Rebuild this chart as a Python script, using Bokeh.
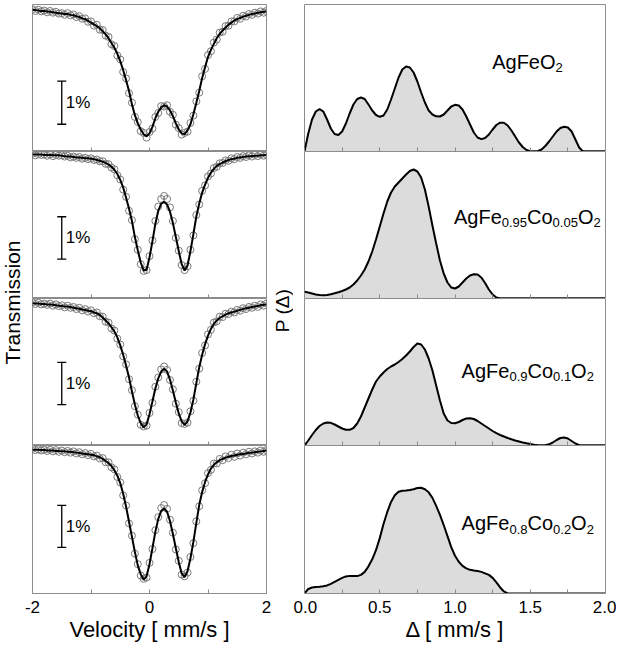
from math import pi
from bokeh.plotting import figure
from bokeh.layouts import row, column
from bokeh.models import Range1d, FixedTicker, Label, PrintfTickFormatter
from bokeh.embed import file_html
from bokeh.resources import INLINE

# ---------------- data ----------------
# velocity channels (mm/s) and quadrupole splitting grid (mm/s)
velocity = [round(-2 + 0.05 * i, 2) for i in range(81)]
delta = [round(0.025 * i, 3) for i in range(81)]

# Mossbauer spectra: relative transmission (%) - fitted curve and measured points
fit_agfeo2 = [99.92, 99.92, 99.91, 99.90, 99.90, 99.89, 99.88, 99.87, 99.86, 99.85,
              99.84, 99.83, 99.83, 99.81, 99.80, 99.78, 99.76, 99.73, 99.71, 99.67,
              99.63, 99.59, 99.55, 99.50, 99.43, 99.36, 99.27, 99.16, 99.05, 98.91,
              98.74, 98.53, 98.30, 98.05, 97.74, 97.49, 97.30, 97.16, 97.05, 97.00,
              97.07, 97.22, 97.42, 97.57, 97.67, 97.72, 97.69, 97.60, 97.47, 97.30,
              97.16, 97.07, 97.05, 97.14, 97.28, 97.51, 97.77, 98.05, 98.35, 98.60,
              98.84, 99.00, 99.14, 99.27, 99.37, 99.45, 99.52, 99.58, 99.63, 99.68,
              99.71, 99.74, 99.77, 99.79, 99.81, 99.83, 99.84, 99.86, 99.87, 99.88, 99.89]
obs_agfeo2 = [99.94, 99.90, 99.93, 99.89, 99.91, 99.87, 99.90, 99.86, 99.88, 99.84,
              99.85, 99.81, 99.85, 99.80, 99.82, 99.76, 99.78, 99.72, 99.73, 99.65,
              99.66, 99.56, 99.58, 99.47, 99.46, 99.33, 99.30, 99.13, 99.09, 98.87,
              98.78, 98.49, 98.34, 98.00, 97.78, 97.45, 97.33, 97.12, 97.08, 96.97,
              97.10, 97.18, 97.45, 97.54, 97.70, 97.69, 97.72, 97.57, 97.50, 97.27,
              97.19, 97.04, 97.08, 97.11, 97.31, 97.48, 97.81, 98.01, 98.39, 98.56,
              98.88, 98.97, 99.17, 99.24, 99.40, 99.42, 99.55, 99.56, 99.66, 99.66,
              99.74, 99.72, 99.79, 99.77, 99.83, 99.81, 99.86, 99.84, 99.89, 99.86, 99.90]

fit_co005 = [99.95, 99.95, 99.95, 99.95, 99.94, 99.94, 99.94, 99.93, 99.93, 99.93,
             99.92, 99.91, 99.90, 99.90, 99.89, 99.88, 99.88, 99.87, 99.86, 99.86,
             99.85, 99.84, 99.82, 99.80, 99.78, 99.75, 99.71, 99.66, 99.59, 99.49,
             99.35, 99.17, 98.93, 98.67, 98.38, 98.00, 97.69, 97.40, 97.21, 97.23,
             97.52, 97.90, 98.31, 98.62, 98.79, 98.83, 98.77, 98.60, 98.33, 98.00,
             97.67, 97.36, 97.21, 97.33, 97.67, 98.07, 98.48, 98.79, 99.05, 99.24,
             99.40, 99.52, 99.61, 99.68, 99.72, 99.76, 99.79, 99.82, 99.84, 99.85,
             99.87, 99.88, 99.89, 99.90, 99.91, 99.91, 99.92, 99.92, 99.93, 99.93, 99.94]
obs_co005 = [99.97, 99.93, 99.96, 99.94, 99.95, 99.92, 99.95, 99.91, 99.94, 99.92,
             99.93, 99.90, 99.92, 99.88, 99.90, 99.87, 99.89, 99.85, 99.87, 99.84,
             99.86, 99.82, 99.83, 99.79, 99.79, 99.73, 99.72, 99.64, 99.60, 99.46,
             99.36, 99.12, 98.95, 98.62, 98.40, 97.95, 97.70, 97.36, 97.20, 97.22,
             97.55, 97.92, 98.38, 98.72, 98.90, 98.97, 98.90, 98.70, 98.38, 97.98,
             97.68, 97.34, 97.22, 97.31, 97.70, 98.04, 98.52, 98.77, 99.09, 99.22,
             99.43, 99.50, 99.63, 99.66, 99.74, 99.75, 99.81, 99.80, 99.86, 99.84,
             99.89, 99.87, 99.91, 99.89, 99.93, 99.90, 99.94, 99.91, 99.95, 99.92, 99.95]

fit_co01 = [99.94, 99.93, 99.93, 99.92, 99.92, 99.91, 99.91, 99.90, 99.89, 99.88,
            99.87, 99.86, 99.86, 99.85, 99.83, 99.82, 99.81, 99.79, 99.78, 99.76,
            99.75, 99.72, 99.70, 99.66, 99.60, 99.53, 99.46, 99.37, 99.27, 99.13,
            98.94, 98.72, 98.46, 98.18, 97.85, 97.54, 97.28, 97.10, 97.00, 97.07,
            97.31, 97.61, 97.92, 98.16, 98.32, 98.39, 98.32, 98.13, 97.87, 97.59,
            97.33, 97.14, 97.06, 97.14, 97.35, 97.66, 98.04, 98.42, 98.72, 98.97,
            99.17, 99.33, 99.45, 99.53, 99.59, 99.63, 99.67, 99.70, 99.72, 99.74,
            99.76, 99.78, 99.80, 99.82, 99.83, 99.85, 99.86, 99.87, 99.89, 99.90, 99.91]
obs_co01 = [99.96, 99.92, 99.95, 99.91, 99.93, 99.90, 99.93, 99.88, 99.91, 99.87,
            99.89, 99.84, 99.88, 99.83, 99.85, 99.80, 99.83, 99.77, 99.80, 99.74,
            99.77, 99.70, 99.72, 99.63, 99.62, 99.50, 99.48, 99.34, 99.29, 99.10,
            98.96, 98.68, 98.49, 98.14, 97.88, 97.50, 97.30, 97.06, 97.02, 97.04,
            97.34, 97.58, 97.96, 98.18, 98.37, 98.44, 98.36, 98.12, 97.90, 97.56,
            97.36, 97.10, 97.08, 97.11, 97.38, 97.63, 98.08, 98.39, 98.76, 98.94,
            99.20, 99.31, 99.48, 99.51, 99.62, 99.61, 99.69, 99.68, 99.74, 99.72,
            99.78, 99.76, 99.82, 99.80, 99.85, 99.83, 99.88, 99.85, 99.91, 99.88, 99.93]

fit_co02 = [99.95, 99.95, 99.95, 99.94, 99.94, 99.93, 99.93, 99.93, 99.92, 99.92,
            99.91, 99.91, 99.90, 99.90, 99.89, 99.88, 99.87, 99.86, 99.85, 99.84,
            99.83, 99.82, 99.79, 99.77, 99.73, 99.68, 99.63, 99.56, 99.46, 99.33,
            99.15, 98.90, 98.59, 98.23, 97.87, 97.51, 97.19, 96.98, 96.85, 96.93,
            97.22, 97.60, 97.99, 98.30, 98.49, 98.55, 98.47, 98.25, 97.94, 97.60,
            97.27, 97.00, 96.91, 97.05, 97.36, 97.75, 98.20, 98.63, 98.94, 99.18,
            99.36, 99.50, 99.59, 99.65, 99.70, 99.73, 99.76, 99.78, 99.80, 99.81,
            99.83, 99.84, 99.85, 99.86, 99.88, 99.88, 99.89, 99.90, 99.91, 99.92, 99.93]
obs_co02 = [99.97, 99.94, 99.96, 99.93, 99.95, 99.92, 99.95, 99.91, 99.94, 99.90,
            99.93, 99.89, 99.92, 99.88, 99.91, 99.86, 99.89, 99.84, 99.87, 99.82,
            99.85, 99.79, 99.81, 99.74, 99.75, 99.65, 99.65, 99.53, 99.48, 99.30,
            99.17, 98.86, 98.62, 98.19, 97.90, 97.47, 97.22, 96.95, 96.87, 96.90,
            97.25, 97.58, 98.03, 98.34, 98.56, 98.63, 98.54, 98.28, 97.97, 97.57,
            97.30, 96.97, 96.93, 97.02, 97.39, 97.72, 98.24, 98.60, 98.98, 99.15,
            99.39, 99.47, 99.62, 99.62, 99.73, 99.70, 99.79, 99.75, 99.83, 99.78,
            99.86, 99.81, 99.88, 99.84, 99.90, 99.86, 99.91, 99.88, 99.93, 99.90, 99.94]

# Quadrupole splitting distributions P(delta), arbitrary units
p_agfeo2 = [0, 18, 32, 40, 42.4, 40, 32, 23, 17.5, 16.5,
            20, 28, 38, 47, 52.5, 54, 52.5, 47, 41, 36.5,
            34.7, 36, 42, 52, 63, 74, 82, 85, 84, 79,
            70, 59, 49, 41, 37, 35.2, 35, 37, 41, 45,
            46.7, 46, 42, 35, 27, 19, 14, 12.4, 13.5, 17,
            22, 26.5, 28.8, 28.8, 26, 21, 15, 9, 4.5, 1.5,
            0.3, 0, 0.3, 2, 5.5, 10, 15, 20, 23.5, 24.7,
            24, 20, 12, 4, 0, 0, 0, 0, 0, 0, 0]
p_co005 = [6.7, 6, 5, 4, 3.5, 3.3, 3.5, 4.2, 5.2, 6.3,
           7.5, 9, 11, 14, 18, 23, 29, 37, 47, 59,
           72, 85, 97, 106, 112, 116, 120, 124, 127.5, 129,
           127, 121, 109, 92, 73, 55, 38, 25, 16, 11,
           10, 12, 16, 20, 23, 24.3, 24, 21, 15.5, 9,
           4, 1, 0, 0, 0, 0, 0, 0, 0, 0,
           0, 0, 0, 0, 0, 0, 0, 0, 0, 0,
           0, 0, 0, 0, 0, 0, 0, 0, 0, 0, 0]
p_co01 = [0, 5, 10.5, 15.5, 19.5, 22, 23, 22.7, 21, 19,
          17, 15.8, 15.7, 17.5, 22, 29, 38, 47, 56, 64,
          69, 73, 76.5, 79, 81, 83.5, 86.5, 90, 94, 98.5,
          102, 101, 96, 87, 75, 60, 45, 32, 25, 22.5,
          22.3, 23.5, 25.5, 27, 27.3, 26.5, 24.5, 22, 19.5, 17,
          14.5, 12.3, 10.5, 9, 7.5, 6.2, 5, 4, 3, 2.2,
          1.5, 0.8, 0.3, 0.1, 0.3, 1.2, 3, 5.5, 7.5, 8,
          7, 4.5, 2, 0.3, 0, 0, 0, 0, 0, 0, 0]
p_co02 = [0, 4.5, 6, 6.5, 6.7, 7.2, 8, 9.5, 11.5, 13.5,
          15.5, 17, 17.5, 17.3, 17.3, 18.5, 21.5, 27, 34, 43,
          55, 69, 81, 91, 97.5, 101, 102, 102.3, 102.7, 103.5,
          104.8, 105, 103.5, 100.5, 95, 87, 78, 68, 57, 46,
          37.5, 31.5, 27.5, 25, 23.5, 22.8, 22.3, 21.5, 20, 18.5,
          15.5, 11, 6, 2, 0, 0, 0, 0, 0, 0,
          0, 0, 0, 0, 0, 0, 0, 0, 0, 0,
          0, 0, 0, 0, 0, 0, 0, 0, 0, 0, 0]

# sample labels: (text, is_subscript) pieces
labels_agfeo2 = [("AgFeO", False), ("2", True)]
labels_co005 = [("AgFe", False), ("0.95", True), ("Co", False), ("0.05", True), ("O", False), ("2", True)]
labels_co01 = [("AgFe", False), ("0.9", True), ("Co", False), ("0.1", True), ("O", False), ("2", True)]
labels_co02 = [("AgFe", False), ("0.8", True), ("Co", False), ("0.2", True), ("O", False), ("2", True)]

vel_tick_labels = {-2: "-2", 0: "0", 2: "2"}
scale_text = "1%"

# ---------------- layout / style ----------------
FONT = "Liberation Sans"
GRAY = "#8c8c8c"
FILL = "#dcdcdc"
CIRC = "#7a7a7a"

spectra = [(fit_agfeo2, obs_agfeo2), (fit_co005, obs_co005), (fit_co01, obs_co01), (fit_co02, obs_co02)]
dists = [p_agfeo2, p_co005, p_co01, p_co02]
names = [labels_agfeo2, labels_co005, labels_co01, labels_co02]

left_yranges = [(96.65, 100.05), (96.55, 100.02), (96.57, 100.05), (96.52, 100.05)]
scale_tops = [98.28, 98.48, 98.54, 98.62]
SCALE_X = -1.5
name_pos = [(1.247, 89.7), (0.993, 81.6), (1.044, 75.0), (1.044, 70.0)]

FRAME_H = [147, 147, 147, 148]
TOP_B = 4
BOTTOM_B = 54
LEFT_B = (8, 5)     # frame 234
RIGHT_B = (11, 11)  # frame 301
LEFT_W = 8 + 234 + 5
RIGHT_W = 11 + 301 + 11
TOTAL_H = TOP_B + sum(FRAME_H) + BOTTOM_B

ARIAL_W = {'A': 0.667, 'g': 0.556, 'F': 0.611, 'e': 0.556, 'C': 0.722, 'o': 0.556,
           'O': 0.778, '.': 0.278}
for d in "0123456789":
    ARIAL_W[d] = 0.556
MAIN_FS = 20
SUB_FS = 13


def text_width(s, fs):
    return sum(ARIAL_W.get(c, 0.556) for c in s) * fs


def panel(width, xr, yr, idx, borders):
    bottom = idx == 3
    top_b = TOP_B if idx == 0 else 0
    bot_b = BOTTOM_B if bottom else 0
    h = FRAME_H[idx] + top_b + bot_b
    p = figure(width=width, height=h, x_range=Range1d(*xr), y_range=Range1d(*yr),
               output_backend="svg", toolbar_location=None, y_axis_location=None)
    p.min_border_left = borders[0]
    p.min_border_right = borders[1]
    p.min_border_top = top_b
    p.min_border_bottom = bot_b
    p.grid.grid_line_color = None
    p.outline_line_color = GRAY
    p.outline_line_width = 1
    p.background_fill_color = "white"
    p.border_fill_color = "white"
    return p


def style_xaxis(p, ticks, minors, bottom, label):
    ax = p.xaxis[0]
    if bottom:
        ax.ticker = FixedTicker(ticks=ticks, minor_ticks=minors)
    else:
        # unlabeled inner axes: all ticks drawn as (equal length) minor ticks
        ax.ticker = FixedTicker(ticks=[], minor_ticks=sorted(ticks + minors))
    ax.major_tick_in = 4
    ax.major_tick_out = 0
    ax.minor_tick_in = 4
    ax.minor_tick_out = 0
    ax.axis_line_color = GRAY
    ax.major_tick_line_color = GRAY
    ax.minor_tick_line_color = GRAY
    if bottom:
        ax.major_label_text_font = FONT
        ax.major_label_text_font_size = "17px"
        ax.major_label_text_color = "black"
        ax.major_label_standoff = 7
        ax.axis_label = label
        ax.axis_label_text_font = FONT
        ax.axis_label_text_font_size = "22px"
        ax.axis_label_text_font_style = "normal"
        ax.axis_label_text_color = "black"
        ax.axis_label_standoff = 1
    else:
        ax.major_label_standoff = 0
        ax.axis_label = None


left_figs = []
for i, (fit, obs) in enumerate(spectra):
    p = panel(LEFT_W, (-2, 2), left_yranges[i], i, LEFT_B)
    p.scatter(velocity, obs, marker="circle", size=7, fill_color=None,
              line_color=CIRC, line_width=1)
    p.line(velocity, fit, line_color="black", line_width=2)
    top = scale_tops[i]
    p.segment(x0=[SCALE_X], y0=[top], x1=[SCALE_X], y1=[top - 1.0],
              line_color="black", line_width=1.3)
    p.scatter([SCALE_X, SCALE_X], [top, top - 1.0], marker="dash", size=9,
              line_color="black", line_width=1.3)
    p.add_layout(Label(x=SCALE_X, y=top - 0.5, x_offset=4, text=scale_text,
                       text_baseline="middle", text_align="left",
                       text_font=FONT, text_font_size="17px", text_color="black"))
    style_xaxis(p, [-2, 0, 2], [-1, 1], i == 3, "Velocity [ mm/s ]")
    if i == 3:
        p.xaxis[0].major_label_overrides = vel_tick_labels
    left_figs.append(p)

right_figs = []
for i, vals in enumerate(dists):
    p = panel(RIGHT_W, (0, 2), (0, 147), i, RIGHT_B)
    p.varea(x=delta, y1=[0] * len(delta), y2=vals, fill_color=FILL)
    p.line(delta, vals, line_color="black", line_width=2)
    lx, ly = name_pos[i]
    off = 0.0
    for txt, sub in names[i]:
        fs = SUB_FS if sub else MAIN_FS
        p.add_layout(Label(x=lx, y=ly, x_offset=off, y_offset=-6 if sub else 0,
                           text=txt, text_font=FONT, text_font_size=f"{fs}px",
                           text_color="black", text_align="left",
                           text_baseline="alphabetic"))
        off += text_width(txt, fs)
    style_xaxis(p, [0, 0.5, 1, 1.5, 2], [0.25, 0.75, 1.25, 1.75], i == 3, "Δ [ mm/s ]")
    if i == 3:
        p.xaxis[0].formatter = PrintfTickFormatter(format="%.1f")
    right_figs.append(p)


def strip(width, text, x, y, fs):
    s = figure(width=width, height=TOTAL_H, x_range=Range1d(0, 1), y_range=Range1d(0, 1),
               output_backend="svg", toolbar_location=None,
               x_axis_location=None, y_axis_location=None)
    s.min_border_left = 0
    s.min_border_right = 0
    s.min_border_top = 0
    s.min_border_bottom = 0
    s.grid.grid_line_color = None
    s.outline_line_color = None
    s.add_layout(Label(x=x, y=y, text=text, angle=pi / 2, text_align="center",
                       text_baseline="middle", text_font=FONT,
                       text_font_size=f"{fs}px", text_color="black"))
    return s


strip_left = strip(24, "Transmission", 0.5, 0.5332, 21)
strip_mid = strip(22, "P (Δ)", 0.5, 0.5209, 19)

layout = row(strip_left, column(*left_figs), strip_mid, column(*right_figs))

open("out.html", "w").write(file_html(layout, INLINE))
